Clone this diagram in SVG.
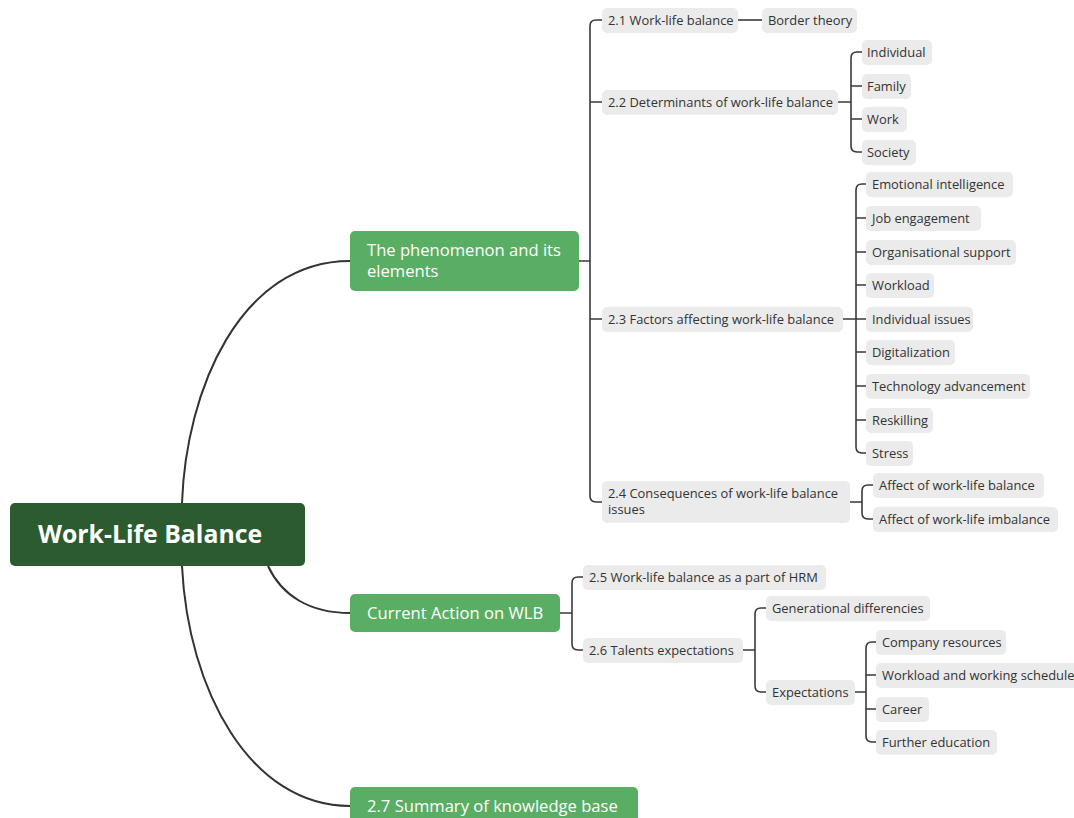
<svg xmlns="http://www.w3.org/2000/svg" width="1074" height="818" viewBox="0 0 1074 818">
<style>
.root{fill:#2b5b2f}
.l1{fill:#5aae63}
.g{fill:#ebebeb}
.tr{font-family:"Open Sans","Liberation Sans",sans-serif;font-weight:bold;font-size:24.8px;fill:#fff}
.t1{font-family:"Open Sans","Liberation Sans",sans-serif;font-size:16.6px;fill:#fff}
.t2{font-family:"Open Sans","Liberation Sans",sans-serif;font-size:12.9px;fill:#333}
.c{fill:none;stroke:#3a3a3a;stroke-width:1.6}
.cm{fill:none;stroke:#333;stroke-width:2}
</style>
<rect width="1074" height="818" fill="#fff"/>
<g id="connectors">
<path class="cm" d="M182,503 C186,390 240,261 350,261"/>
<path class="cm" d="M268,566 C282,596 310,613 350,613"/>
<path class="cm" d="M182,566 C188,690 250,806 350,806"/>
<path class="c" d="M579,261 H590 M602,20 H596 Q590,20 590,26 V496 Q590,502 596,502 H602 M590,102 H602 M590,319 H602"/>
<path class="c" d="M738,20 H762"/>
<path class="c" d="M838,102 H851 M862,52 H857 Q851,52 851,58 V146 Q851,152 857,152 H862 M851,86 H862 M851,119 H862"/>
<path class="c" d="M843,319 H866 M866,184 H862 Q856,184 856,190 V447 Q856,453 862,453 H866 M856,218 H866 M856,252 H866 M856,285 H866 M856,352 H866 M856,386 H866 M856,420 H866"/>
<path class="c" d="M850,502 H862 M873,485 H868 Q862,485 862,491 V513 Q862,519 868,519 H873"/>
<path class="c" d="M560,613 H572 M583,577 H578 Q572,577 572,583 V644 Q572,650 578,650 H583"/>
<path class="c" d="M743,650 H755 M766,608 H761 Q755,608 755,614 V686 Q755,692 761,692 H766"/>
<path class="c" d="M855,692 H866 M876,642 H872 Q866,642 866,648 V736 Q866,742 872,742 H876 M866,675 H876 M866,709 H876"/>
</g>
<g id="root"><rect class="root" x="10" y="503" width="295" height="63" rx="5"/><text class="tr" x="38" y="543">Work-Life Balance</text></g>
<g id="phenomenon"><rect class="l1" x="350" y="231" width="229" height="60" rx="5"/><text class="t1" x="367" y="256">The phenomenon and its</text><text class="t1" x="367" y="277">elements</text></g>
<g id="current"><rect class="l1" x="350" y="594" width="210" height="38" rx="5"/><text class="t1" x="367" y="619">Current Action on WLB</text></g>
<g id="summary"><rect class="l1" x="350" y="787" width="288" height="40" rx="5"/><text class="t1" x="367" y="812">2.7 Summary of knowledge base</text></g>
<g id="n21"><rect class="g" x="602" y="8" width="136" height="25" rx="5"/><text class="t2" x="608" y="24.5">2.1 Work-life balance</text></g>
<g id="border"><rect class="g" x="762" y="8" width="95" height="25" rx="5"/><text class="t2" x="768" y="24.5">Border theory</text></g>
<g id="n22"><rect class="g" x="602" y="90" width="236" height="25" rx="5"/><text class="t2" x="608" y="106.5">2.2 Determinants of work-life balance</text></g>
<g id="individual"><rect class="g" x="862" y="40" width="70" height="25" rx="5"/><text class="t2" x="867" y="56.5">Individual</text></g>
<g id="family"><rect class="g" x="862" y="74" width="49" height="25" rx="5"/><text class="t2" x="867" y="90.5">Family</text></g>
<g id="work"><rect class="g" x="862" y="107" width="45" height="25" rx="5"/><text class="t2" x="867" y="123.5">Work</text></g>
<g id="society"><rect class="g" x="862" y="140" width="54" height="25" rx="5"/><text class="t2" x="867" y="156.5">Society</text></g>
<g id="n23"><rect class="g" x="602" y="307" width="241" height="25" rx="5"/><text class="t2" x="608" y="323.5">2.3 Factors affecting work-life balance</text></g>
<g id="emotional"><rect class="g" x="866" y="172" width="147" height="25" rx="5"/><text class="t2" x="872" y="188.5">Emotional intelligence</text></g>
<g id="job"><rect class="g" x="866" y="206" width="115" height="25" rx="5"/><text class="t2" x="872" y="222.5">Job engagement</text></g>
<g id="org"><rect class="g" x="866" y="240" width="150" height="25" rx="5"/><text class="t2" x="872" y="256.5">Organisational support</text></g>
<g id="workload"><rect class="g" x="866" y="273" width="68" height="25" rx="5"/><text class="t2" x="872" y="289.5">Workload</text></g>
<g id="indissues"><rect class="g" x="866" y="307" width="107" height="25" rx="5"/><text class="t2" x="872" y="323.5">Individual issues</text></g>
<g id="digital"><rect class="g" x="866" y="340" width="89" height="25" rx="5"/><text class="t2" x="872" y="356.5">Digitalization</text></g>
<g id="tech"><rect class="g" x="866" y="374" width="164" height="25" rx="5"/><text class="t2" x="872" y="390.5">Technology advancement</text></g>
<g id="reskill"><rect class="g" x="866" y="408" width="67" height="25" rx="5"/><text class="t2" x="872" y="424.5">Reskilling</text></g>
<g id="stress"><rect class="g" x="866" y="441" width="47" height="25" rx="5"/><text class="t2" x="872" y="457.5">Stress</text></g>
<g id="n24"><rect class="g" x="602" y="481" width="248" height="42" rx="5"/><text class="t2" x="608" y="498">2.4 Consequences of work-life balance</text><text class="t2" x="608" y="514">issues</text></g>
<g id="affbal"><rect class="g" x="873" y="473" width="171" height="25" rx="5"/><text class="t2" x="879" y="489.5">Affect of work-life balance</text></g>
<g id="affimb"><rect class="g" x="873" y="507" width="185" height="25" rx="5"/><text class="t2" x="879" y="523.5">Affect of work-life imbalance</text></g>
<g id="n25"><rect class="g" x="583" y="565" width="243" height="25" rx="5"/><text class="t2" x="589" y="581.5">2.5 Work-life balance as a part of HRM</text></g>
<g id="n26"><rect class="g" x="583" y="638" width="160" height="25" rx="5"/><text class="t2" x="589" y="654.5">2.6 Talents expectations</text></g>
<g id="gen"><rect class="g" x="766" y="596" width="164" height="25" rx="5"/><text class="t2" x="772" y="612.5">Generational differencies</text></g>
<g id="expect"><rect class="g" x="766" y="680" width="89" height="25" rx="5"/><text class="t2" x="772" y="696.5">Expectations</text></g>
<g id="company"><rect class="g" x="876" y="630" width="130" height="25" rx="5"/><text class="t2" x="882" y="646.5">Company resources</text></g>
<g id="schedule"><rect class="g" x="876" y="663" width="204" height="25" rx="5"/><text class="t2" x="882" y="679.5">Workload and working schedule</text></g>
<g id="career"><rect class="g" x="876" y="697" width="53" height="25" rx="5"/><text class="t2" x="882" y="713.5">Career</text></g>
<g id="further"><rect class="g" x="876" y="730" width="121" height="25" rx="5"/><text class="t2" x="882" y="746.5">Further education</text></g>
</svg>
